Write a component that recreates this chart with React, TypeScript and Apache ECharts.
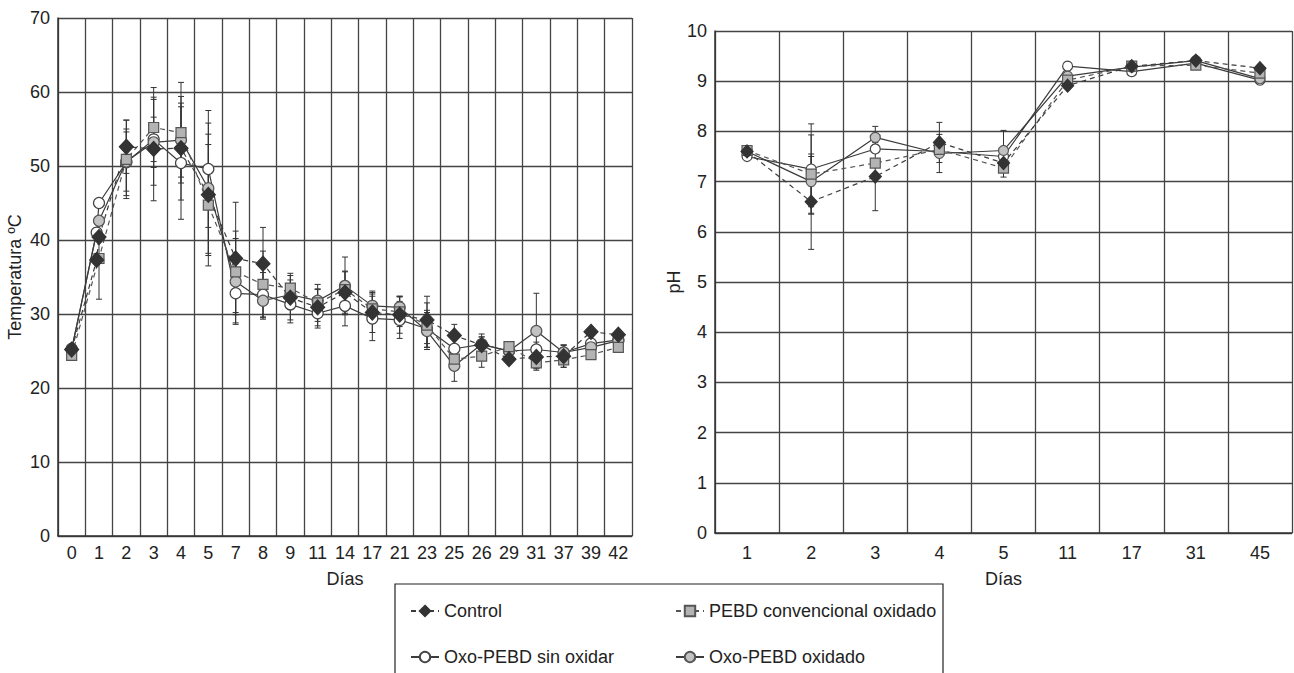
import React, { useEffect, useRef } from "react";
import * as echarts from "echarts";

// ---------- data ----------
const seriesNames = ["Control", "PEBD convencional oxidado", "Oxo-PEBD sin oxidar", "Oxo-PEBD oxidado"];

const daysT = ["0", "1", "2", "3", "4", "5", "7", "8", "9", "11", "14", "17", "21", "23", "25", "26", "29", "31", "37", "39", "42"];
const controlT = [25.2, 40.4, 52.6, 52.3, 52.4, 46.1, 37.5, 36.8, 32.2, 30.9, 32.9, 30.2, 29.9, 29.2, 27.1, 25.8, 23.9, 24.2, 24.3, 27.6, 27.2];
const pebdT = [24.4, 37.5, 50.9, 55.2, 54.5, 44.7, 35.7, 34.0, 33.5, 31.5, 33.3, 30.7, 30.3, 28.5, 23.9, 24.3, 25.6, 23.4, 23.8, 24.5, 25.5];
const openT = [25.3, 45.0, 50.5, 53.6, 50.4, 49.6, 32.8, 32.6, 31.3, 30.1, 31.1, 29.4, 29.2, 28.0, 25.3, 25.9, 25.0, 25.2, 24.8, 26.0, 26.5];
const greyT = [25.2, 42.6, 50.6, 53.2, 53.5, 47.0, 34.4, 31.8, 32.6, 31.8, 33.8, 31.1, 30.9, 27.7, 23.0, 25.9, 25.0, 27.7, 24.8, 25.5, 26.4];
// earlier reading on day 1 (null = none)
const day1EarlyT = [37.3, null, 41.0, null];

const controlTErr = [0, 0, 3.6, 7.0, 7.0, 8.2, 7.6, 4.9, 3.0, 2.5, 2.8, 2.7, 2.5, 3.2, 1.5, 1.5, 0.5, 1.5, 1.5, 0, 0];
const pebdTErr = [0, 5.5, 5.3, 5.4, 6.8, 8.2, 5.5, 4.5, 2.0, 2.5, 2.5, 2.0, 2.0, 3.0, 1.5, 1.5, 0.5, 1.0, 1.0, 0, 0];
const openTErr = [0, 0, 4.5, 3.0, 7.6, 7.9, 4.0, 3.0, 2.5, 2.0, 2.7, 3.0, 2.5, 2.5, 2.0, 1.0, 0.5, 1.0, 1.0, 0, 0];
const greyTErr = [0, 0, 4.0, 5.8, 5.0, 8.8, 5.8, 2.5, 2.0, 1.5, 3.9, 2.0, 1.5, 2.5, 2.1, 1.0, 0.5, 5.1, 1.0, 0, 0];

const daysP = ["1", "2", "3", "4", "5", "11", "17", "31", "45"];
const controlP = [7.6, 6.6, 7.1, 7.78, 7.37, 8.91, 9.3, 9.41, 9.26];
const pebdP = [7.62, 7.15, 7.37, 7.64, 7.27, 9.02, 9.3, 9.32, 9.16];
const openP = [7.5, 7.25, 7.65, 7.6, 7.5, 9.3, 9.19, 9.36, 9.02];
const greyP = [7.6, 7.0, 7.88, 7.56, 7.62, 9.1, 9.28, 9.41, 9.05];

const controlPErr = [0, 0.95, 0.68, 0.4, 0, 0, 0, 0, 0];
const pebdPErr = [0, 0.78, 0, 0, 0.18, 0, 0, 0, 0];
const openPErr = [0, 0.9, 0, 0, 0, 0, 0, 0, 0];
const greyPErr = [0, 0.5, 0.22, 0.38, 0.4, 0, 0, 0, 0];

// ---------- styles ----------
const FONT = "'Liberation Sans', Arial, Helvetica, sans-serif";
const styles = [
  { symbol: "diamond", sizeT: [14, 15], sizeP: [12, 13], fill: "#333333", border: "#333333", line: "#3c3c3c", dash: [5, 4] },
  { symbol: "rect", sizeT: 10, sizeP: 10, fill: "#b3b3b3", border: "#555555", line: "#555555", dash: [5, 4] },
  { symbol: "circle", sizeT: 11, sizeP: 10, fill: "#ffffff", border: "#444444", line: "#3c3c3c", dash: "solid" },
  { symbol: "circle", sizeT: 11, sizeP: 10, fill: "#c2c2c2", border: "#555555", line: "#3c3c3c", dash: "solid" },
];

export default function App() {
  const ref = useRef<HTMLDivElement>(null);

  useEffect(() => {
    if (!ref.current) return;
    const chart = echarts.init(ref.current, null, { renderer: "svg" });

    const tVals = [controlT, pebdT, openT, greyT];
    const tErrs = [controlTErr, pebdTErr, openTErr, greyTErr];
    const pVals = [controlP, pebdP, openP, greyP];
    const pErrs = [controlPErr, pebdPErr, openPErr, greyPErr];

    const errRender = (params: any, api: any) => {
      const x = api.value(0);
      const lo = api.value(1);
      const hi = api.value(2);
      const p1 = api.coord([x, lo]);
      const p2 = api.coord([x, hi]);
      const w = 3;
      const st = { stroke: "#333", lineWidth: 1 };
      return {
        type: "group",
        children: [
          { type: "line", shape: { x1: p1[0], y1: p1[1], x2: p2[0], y2: p2[1] }, style: st },
          { type: "line", shape: { x1: p1[0] - w, y1: p1[1], x2: p1[0] + w, y2: p1[1] }, style: st },
          { type: "line", shape: { x1: p2[0] - w, y1: p2[1], x2: p2[0] + w, y2: p2[1] }, style: st },
        ],
      };
    };

    const drawOrder = [2, 3, 1, 0];
    const series: any[] = [];

    // error bars
    drawOrder.forEach((k) => {
      series.push({
        type: "custom",
        xAxisIndex: 1,
        yAxisIndex: 0,
        renderItem: errRender,
        z: 2,
        silent: true,
        data: tVals[k]
          .map((v, i) => [i, v - tErrs[k][i], v + tErrs[k][i], tErrs[k][i]])
          .filter((d) => d[3] > 0),
      });
      series.push({
        type: "custom",
        xAxisIndex: 2,
        yAxisIndex: 1,
        renderItem: errRender,
        z: 2,
        silent: true,
        data: pVals[k]
          .map((v, i) => [i, v - pErrs[k][i], v + pErrs[k][i], pErrs[k][i]])
          .filter((d) => d[3] > 0),
      });
    });

    drawOrder.forEach((k) => {
      const s = styles[k];
      const tData: any[] = [];
      tVals[k].forEach((v, i) => {
        if (i === 1 && day1EarlyT[k] != null) tData.push([0.915, day1EarlyT[k]]);
        tData.push([i, v]);
      });
      const common = {
        type: "line",
        name: seriesNames[k],
        symbol: s.symbol,
        showSymbol: true,
        itemStyle: { color: s.fill, borderColor: s.border, borderWidth: 1.2, opacity: 1 },
        lineStyle: { color: s.line, width: 1.2, type: s.dash },
        z: 3,
        silent: true,
      };
      series.push({ ...common, xAxisIndex: 1, yAxisIndex: 0, symbolSize: s.sizeT, data: tData });
      series.push({ ...common, xAxisIndex: 2, yAxisIndex: 1, symbolSize: s.sizeP, data: pVals[k] });
    });

    const catAxis = (gridIndex: number, data: string[], margin: number, nameGap: number) => ({
      type: "category",
      gridIndex,
      data,
      boundaryGap: true,
      name: "Días",
      nameLocation: "middle",
      nameGap,
      nameTextStyle: { fontSize: 18, color: "#222", fontFamily: FONT },
      axisLine: { show: true, onZero: false, lineStyle: { color: "#333", width: 1.5 } },
      axisTick: { show: false },
      axisLabel: { interval: 0, fontSize: 18, color: "#222", fontFamily: FONT, margin },
      splitLine: { show: true, interval: 0, lineStyle: { color: "#444", width: 1.3 } },
    });

    const valAxis = (gridIndex: number, max: number, interval: number, name: string, nameGap: number) => ({
      type: "value",
      gridIndex,
      min: 0,
      max,
      interval,
      name,
      nameLocation: "middle",
      nameRotate: 90,
      nameGap,
      nameTextStyle: { fontSize: 18, color: "#222", fontFamily: FONT },
      axisLine: { show: true, onZero: false, lineStyle: { color: "#333", width: 1.5 } },
      axisTick: { show: false },
      axisLabel: { fontSize: 18, color: "#222", fontFamily: FONT, margin: 8 },
      splitLine: { show: true, lineStyle: { color: "#444", width: 1.3 } },
    });

    const legendAt = (name: string, left: number, top: number) => ({
      data: [name],
      left,
      top,
      padding: 0,
      itemWidth: 28,
      itemHeight: 13,
      selectedMode: false,
      textStyle: { fontSize: 18, color: "#222", fontFamily: FONT },
    });

    chart.setOption({
      animation: false,
      backgroundColor: "#ffffff",
      textStyle: { fontFamily: FONT },
      grid: [
        { left: 58, top: 18, width: 574, height: 518 },
        { left: 715, top: 31, width: 577, height: 502 },
      ],
      xAxis: [
        catAxis(0, daysT, 8, 34),
        {
          type: "value",
          gridIndex: 0,
          min: -0.5,
          max: daysT.length - 0.5,
          show: false,
          axisLine: { show: false, onZero: false },
          splitLine: { show: false },
        },
        catAxis(1, daysP, 11, 37),
      ],
      yAxis: [valAxis(0, 70, 10, "Temperatura ºC", 34), valAxis(1, 10, 1, "pH", 24)],
      legend: [
        legendAt(seriesNames[0], 410, 602),
        legendAt(seriesNames[1], 675, 602),
        legendAt(seriesNames[2], 410, 648),
        legendAt(seriesNames[3], 675, 648),
      ],
      graphic: [
        {
          type: "rect",
          shape: { x: 395, y: 584, width: 548, height: 110 },
          style: { fill: "none", stroke: "#222", lineWidth: 1.2 },
          silent: true,
        },
      ],
      series,
    });

    return () => chart.dispose();
  }, []);

  return (
    <div
      ref={ref}
      style={{ position: "absolute", left: 0, top: 0, width: 1294, height: 673, background: "#fff" }}
    />
  );
}
